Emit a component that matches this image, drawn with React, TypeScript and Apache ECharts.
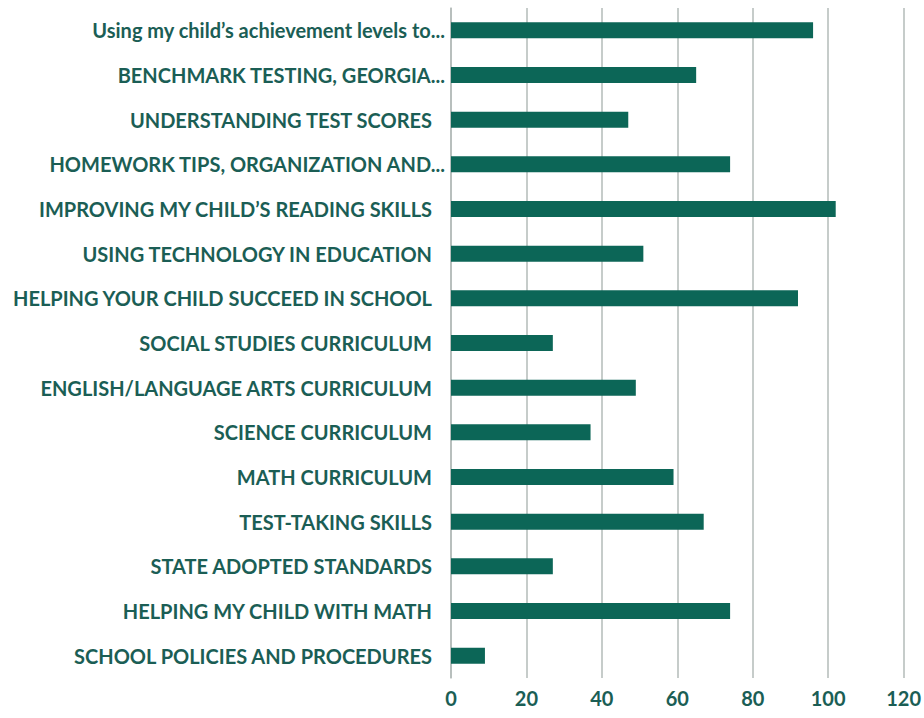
import React, { useEffect, useRef } from "react";
import * as echarts from "echarts";

const categories = [
  "Using my child\u2019s achievement levels to...",
  "BENCHMARK TESTING, GEORGIA...",
  "UNDERSTANDING TEST SCORES",
  "HOMEWORK TIPS, ORGANIZATION AND...",
  "IMPROVING MY CHILD\u2019S READING SKILLS",
  "USING TECHNOLOGY IN EDUCATION",
  "HELPING YOUR CHILD SUCCEED IN SCHOOL",
  "SOCIAL STUDIES CURRICULUM",
  "ENGLISH/LANGUAGE ARTS CURRICULUM",
  "SCIENCE CURRICULUM",
  "MATH CURRICULUM",
  "TEST-TAKING SKILLS",
  "STATE ADOPTED STANDARDS",
  "HELPING MY CHILD WITH MATH",
  "SCHOOL POLICIES AND PROCEDURES",
];

const values = [96, 65, 47, 74, 102, 51, 92, 27, 49, 37, 59, 67, 27, 74, 9];

const xTicks = { min: 0, max: 120, interval: 20 };

const TEXT = "#1b5e55";
const BAR = "#0c6657";
const FONT = "Lato";

export default function App() {
  const ref = useRef<HTMLDivElement>(null);
  useEffect(() => {
    document.body.style.margin = "0";
    if (!ref.current) return;
    const chart = echarts.init(ref.current, undefined, { renderer: "svg" });
    chart.setOption({
      animation: false,
      backgroundColor: "#ffffff",
      grid: { left: 451, right: 18, top: 8, bottom: 40, containLabel: false },
      xAxis: {
        type: "value",
        min: xTicks.min,
        max: xTicks.max,
        interval: xTicks.interval,
        axisLine: { show: false },
        axisTick: { show: false },
        splitLine: { show: true, lineStyle: { color: "#b3bbb9", width: 1.5 } },
        axisLabel: {
          color: TEXT,
          fontFamily: FONT,
          fontWeight: "bold",
          fontSize: 20,
          margin: 10,
        },
      },
      yAxis: {
        type: "category",
        inverse: true,
        data: categories,
        axisLine: { show: true, lineStyle: { color: "#b3bbb9", width: 1.5 } },
        axisTick: { show: false },
        axisLabel: {
          color: TEXT,
          fontFamily: FONT,
          fontWeight: "bold",
          fontSize: 20,
          margin: 6,
          formatter: (v: string) =>
            v.endsWith("...") ? `{e|${v}}` : `{p|${v}}`,
          rich: {
            e: { color: TEXT, fontFamily: FONT, fontWeight: "bold", fontSize: 20 },
            p: {
              color: TEXT,
              fontFamily: FONT,
              fontWeight: "bold",
              fontSize: 20,
              padding: [0, 13, 0, 0],
            },
          },
        },
      },
      series: [
        {
          type: "bar",
          data: values,
          barWidth: 16,
          itemStyle: { color: BAR },
        },
      ],
    });
    return () => chart.dispose();
  }, []);
  return <div ref={ref} style={{ width: 924, height: 718 }} />;
}
